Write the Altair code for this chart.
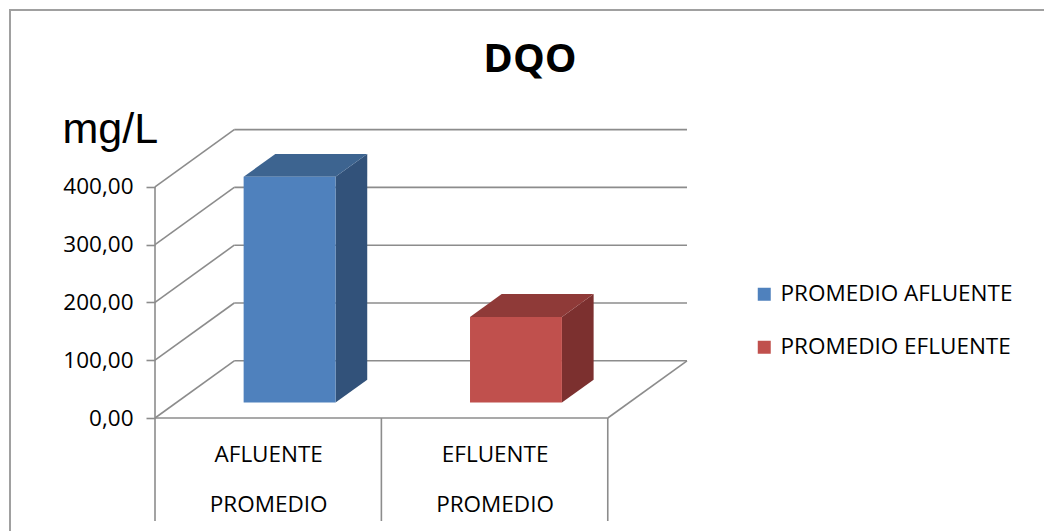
import altair as alt
import pandas as pd

# ---- data ----
categories = ["AFLUENTE", "EFLUENTE"]
series = ["PROMEDIO AFLUENTE", "PROMEDIO EFLUENTE"]
values = [390.5, 148.0]
front_colors = ["#4F81BD", "#C0504D"]
top_colors = ["#3D6490", "#8F3A38"]
side_colors = ["#32527A", "#7C302F"]
tick_values = [0, 100, 200, 300, 400]
tick_labels = ["0,00", "100,00", "200,00", "300,00", "400,00"]

# ---- 3D projection parameters (category units / value units) ----
DX = 0.35      # depth shift along x, in category units
DY = 99.0      # depth shift along y, in value units
D1, D2 = 0.27, 0.67   # bar depth range (fraction of floor depth)
HW = 0.203            # bar half width in category units
N = len(categories)
XMAX = N + DX
YMAX = 400 + DY + 1


def X(u, d):
    return u + d * DX


def Y(v, d):
    return v + d * DY


FONT = "Open Sans"
GRID = "#8C8C8C"

xs = alt.Scale(domain=[0, XMAX], nice=False, zero=False)
ys = alt.Scale(domain=[0, YMAX], nice=False, zero=False)

label_expr_y = "replace(format(datum.value, '.2f'), '.', ',')"
label_expr_x = ("[datum.value < 1 ? '" + categories[0] + "' : '" + categories[1]
                + "', 'PROMEDIO']")

XAX = alt.Axis(values=[i + 0.5 for i in range(N)], labelExpr=label_expr_x,
               domain=False, grid=False, ticks=False, tickSize=0, labelPadding=25,
               labelFont=FONT, labelFontSize=22.5, labelColor="#000000",
               labelLineHeight=50, title=None)
YAX = alt.Axis(values=tick_values, labelExpr=label_expr_y,
               domain=False, grid=False, tickSize=9, tickColor=GRID, tickWidth=1.6,
               labelPadding=13, labelFont=FONT, labelFontSize=22.5, labelColor="#000000",
               title="mg/L", titleAngle=0, titleAlign="left", titleBaseline="alphabetic",
               titleX=-93, titleY=13, titleFont="Liberation Sans", titleFontSize=43,
               titleFontWeight="normal", titleColor="#000000")


def ex(field, **kw):
    return alt.X(field, scale=xs, axis=XAX, **kw)


def ey(field, **kw):
    return alt.Y(field, scale=ys, axis=YAX, **kw)


# back wall gridlines
back = pd.DataFrame({"x": [X(0, 1)] * 5, "x2": [X(N, 1)] * 5,
                     "y": [Y(v, 1) for v in tick_values]})
back_layer = alt.Chart(back).mark_rule(color=GRID, strokeWidth=1.6).encode(
    x=ex("x:Q"), x2="x2", y=ey("y:Q"))

# side wall diagonals + floor right edge + floor front edge
diag = pd.DataFrame({
    "x": [X(0, 0)] * 5 + [X(N, 0), X(0, 0)],
    "x2": [X(0, 1)] * 5 + [X(N, 1), X(N, 0)],
    "y": [Y(v, 0) for v in tick_values] + [0, 0],
    "y2": [Y(v, 1) for v in tick_values] + [DY, 0],
})
diag_layer = alt.Chart(diag).mark_rule(color=GRID, strokeWidth=1.6).encode(
    x=ex("x:Q"), x2="x2", y=ey("y:Q"), y2="y2")

# front vertical axis line
vline = pd.DataFrame({"x": [0.0], "y": [400.0], "y2": [0.0]})
vline_layer = alt.Chart(vline).mark_rule(color=GRID, strokeWidth=1.6).encode(
    x=ex("x:Q"), y=ey("y:Q"), y2="y2")

# category dividers below the floor
div = pd.DataFrame({"x": [float(i) for i in range(N + 1)], "y": [0.0] * (N + 1)})
div_layer = alt.Chart(div).mark_rule(color=GRID, strokeWidth=1.6).encode(
    x=ex("x:Q"), y=ey("y:Q"), y2=alt.value(392))

# bars
side_rows, top_rows, front_rows = [], [], []
for i, (s, v) in enumerate(zip(series, values)):
    c = i + 0.5
    for d in (D1, D2):
        side_rows.append({"s": s, "x": X(c + HW, d), "y": Y(0, d), "y2": Y(v, d),
                          "col": side_colors[i]})
        top_rows.append({"s": s, "y": Y(v, d), "x": X(c - HW, d), "x2": X(c + HW, d),
                         "col": top_colors[i]})
    front_rows.append({"s": s, "x": X(c - HW, D1), "x2": X(c + HW, D1),
                       "y": Y(0, D1), "y2": Y(v, D1)})

side_layer = alt.Chart(pd.DataFrame(side_rows)).mark_area(
    orient="vertical", opacity=1).encode(
    x=ex("x:Q"), y=ey("y:Q"), y2="y2", detail="s:N",
    color=alt.Color("col:N", scale=None))

top_layer = alt.Chart(pd.DataFrame(top_rows)).mark_area(
    orient="horizontal", opacity=1).encode(
    y=ey("y:Q"), x=ex("x:Q"), x2="x2", detail="s:N",
    color=alt.Color("col:N", scale=None))

front_layer = alt.Chart(pd.DataFrame(front_rows)).mark_rect(opacity=1).encode(
    x=ex("x:Q"), x2="x2", y=ey("y:Q"), y2="y2",
    color=alt.Color("s:N", scale=alt.Scale(domain=series, range=front_colors),
                    legend=alt.Legend(
                        title=None, orient="none", legendX=598, legendY=154,
                        symbolType="square", symbolSize=169, symbolStrokeWidth=0,
                        labelFont=FONT, labelFontSize=22.5, labelColor="#000000",
                        labelOffset=5, rowPadding=30, labelLimit=400)))

# outer frame
frame_layer = alt.Chart(pd.DataFrame({"k": [0]})).mark_rect(
    fill=None, stroke="#A0A0A0", strokeWidth=2).encode(
    x=alt.value(-145), x2=alt.value(900), y=alt.value(-119), y2=alt.value(410))

chart = alt.layer(
    frame_layer, back_layer, diag_layer, vline_layer, div_layer,
    side_layer, top_layer, front_layer
).resolve_scale(color="independent").properties(
    width=532, height=289,
    background="white",
    autosize=alt.AutoSizeParams(type="none"),
    padding={"left": 155, "top": 129, "right": 357, "bottom": 113},
    title=alt.TitleParams(text="DQO", font=FONT, fontSize=40, fontWeight="bold",
                          color="#000000", anchor="middle", frame="group",
                          baseline="alphabetic", dx=109, dy=103, offset=0),
).configure_view(strokeWidth=0)

chart.save("out.html", embed_options={"renderer": "svg", "actions": False})
